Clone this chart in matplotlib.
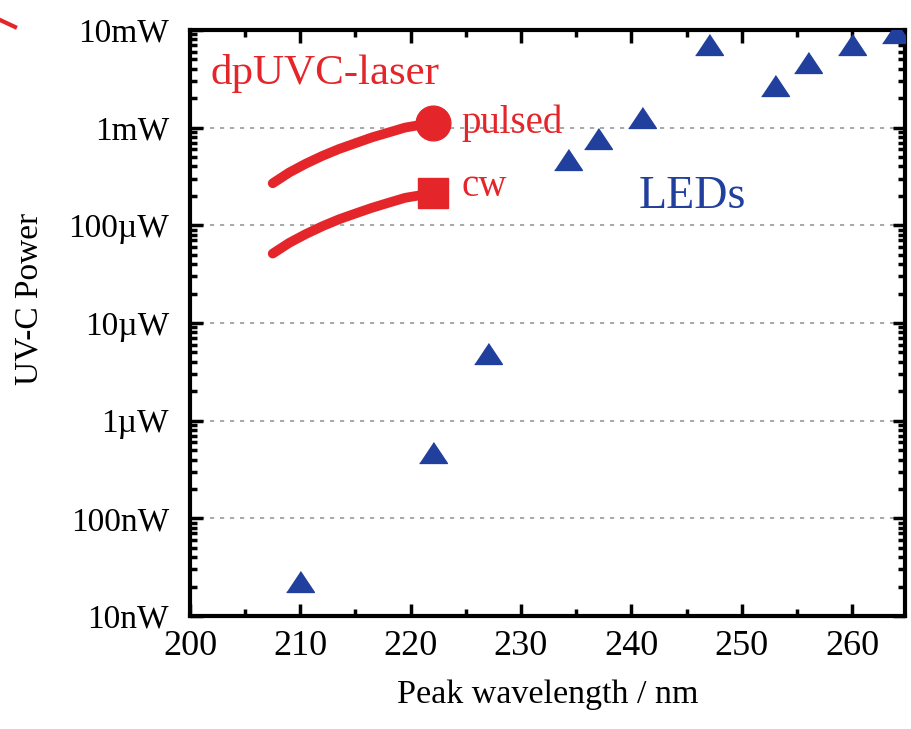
import numpy as np
import matplotlib
matplotlib.use('Agg')
import matplotlib.pyplot as plt
from matplotlib.ticker import FixedLocator, MultipleLocator, LogLocator, NullFormatter

plt.rcParams['font.family'] = ['Liberation Serif', 'DejaVu Serif']

# LED data
led_wl = [210, 222, 227, 234.3, 237, 241, 247, 253, 256, 260, 264]
led_power = [2.1e-8, 4.3e-7, 4.5e-6, 4.3e-4, 7.2e-4, 1.17e-3, 6.6e-3, 2.5e-3, 4.3e-3, 6.6e-3, 8.7e-3]

# dpUVC-laser curves
laser_wl = [207.5, 209, 210.5, 212, 213.5, 215, 216.5, 218, 219.5, 221, 222]
pulsed_power = [2.69e-4, 3.47e-4, 4.27e-4, 5.13e-4, 6.03e-4, 6.92e-4,
                7.94e-4, 8.91e-4, 1.0e-3, 1.07e-3, 1.12e-3]
cw_power = [5.13e-5, 6.61e-5, 8.13e-5, 9.77e-5, 1.15e-4, 1.32e-4,
            1.51e-4, 1.70e-4, 1.91e-4, 2.04e-4, 2.14e-4]

ytick_vals = [1e-8, 1e-7, 1e-6, 1e-5, 1e-4, 1e-3, 1e-2]
ytick_labels = ['10nW', '100nW', '1\u00b5W', '10\u00b5W', '100\u00b5W', '1mW', '10mW']

red = '#e4262b'
blue = '#213f9c'

fig = plt.figure(figsize=(9.12, 7.29), dpi=100)
ax = fig.add_axes([0.2083, 0.155, 0.7840, 0.804])

ax.set_yscale('log')
ax.set_xlim(200, 264.8)
ax.set_ylim(1e-8, 1e-2)

for v in ytick_vals[1:-1]:
    ax.axhline(v, color='#9a9a9a', lw=1.2, ls=(0, (2.5, 3.5)), zorder=0)

tri = [(-1, -0.5), (1, -0.5), (0, 1.0)]
ax.plot(led_wl, led_power, ls='none', marker=tri, ms=20, color=blue, zorder=3)

ax.plot(laser_wl, pulsed_power, color=red, lw=7, solid_capstyle='round', zorder=4)
ax.plot(laser_wl[-1], pulsed_power[-1], marker='o', ms=25, color=red, zorder=5)
ax.plot(laser_wl, cw_power, color=red, lw=7, solid_capstyle='round', zorder=4)
ax.plot(laser_wl[-1], cw_power[-1], marker='s', ms=22, color=red, zorder=5)

ax.text(201.9, 2.8e-3, 'dpUVC-laser', color=red, fontsize=31, va='baseline', ha='left')
ax.text(224.6, 8.7e-4, 'pulsed', color=red, fontsize=28, va='baseline', ha='left')
ax.text(224.6, 1.98e-4, 'cw', color=red, fontsize=28, va='baseline', ha='left')
ax.text(240.7, 1.49e-4, 'LEDs', color=blue, fontsize=33, va='baseline', ha='left')

ax.xaxis.set_major_locator(MultipleLocator(10))
ax.xaxis.set_minor_locator(MultipleLocator(5))
ax.yaxis.set_major_locator(FixedLocator(ytick_vals))
ax.set_yticklabels(ytick_labels)
ax.yaxis.set_minor_locator(LogLocator(base=10, subs=np.arange(2, 10)))
ax.yaxis.set_minor_formatter(NullFormatter())

ax.tick_params(which='both', direction='in', top=True, right=True, width=2.5)
ax.tick_params(which='major', length=9)
ax.tick_params(which='minor', length=5)
ax.tick_params(axis='x', pad=10, labelsize=26)
ax.tick_params(axis='y', pad=15, labelsize=24)

for s in ax.spines.values():
    s.set_linewidth(3)

ax.set_xlabel('Peak wavelength / nm', fontsize=24.5, labelpad=12)
ax.set_ylabel('UV-C Power', fontsize=24)
ax.yaxis.set_label_coords(-0.204, 0.541)

# stray red stroke at the top-left edge
fig.add_artist(plt.Line2D([0.0, 0.0165], [0.9726, 0.963], color=red, lw=3))

fig.savefig('out.png', dpi=100)
